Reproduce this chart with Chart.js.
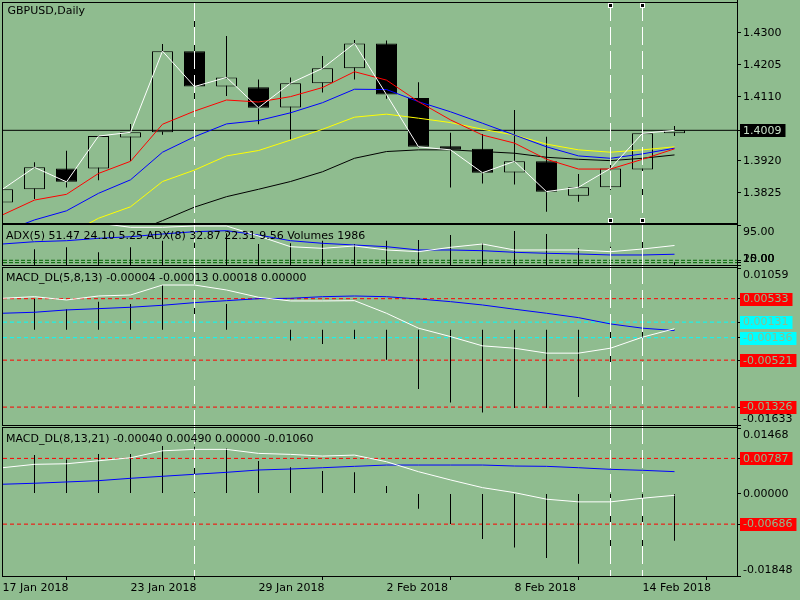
<!DOCTYPE html>
<html>
<head>
<meta charset="utf-8">
<script src="https://cdn.jsdelivr.net/npm/chart.js@4.4.1/dist/chart.umd.min.js"></script>
<style>
html, body { margin: 0; padding: 0; background: #8FBC8F; width: 800px; height: 600px; overflow: hidden; }
canvas { position: absolute; left: 0; }
</style>
</head>
<body>
<canvas id="main" width="800" height="224" style="top:0px"></canvas>
<canvas id="adx" width="800" height="42" style="top:224px"></canvas>
<canvas id="macd1" width="800" height="160" style="top:266px"></canvas>
<canvas id="macd2" width="800" height="174" style="top:426px"></canvas>
<script>
// bars, one per trading day
const dates = ['17 Jan 2018', '18 Jan 2018', '19 Jan 2018', '22 Jan 2018', '23 Jan 2018', '24 Jan 2018',
    '25 Jan 2018', '26 Jan 2018', '29 Jan 2018', '30 Jan 2018', '31 Jan 2018', '1 Feb 2018', '2 Feb 2018',
    '5 Feb 2018', '6 Feb 2018', '7 Feb 2018', '8 Feb 2018', '9 Feb 2018', '12 Feb 2018', '13 Feb 2018',
    '14 Feb 2018', '15 Feb 2018']
const dateTicks = [0, 4, 8, 12, 16, 20]
const vlineBars = [6, 19, 20]
const selectedBars = [19, 20]

const opens = [1.3795, 1.3834, 1.3896, 1.3896, 1.3988, 1.4003, 1.4244, 1.4139, 1.4137, 1.4077, 1.4149,
    1.4193, 1.4267, 1.4105, 1.3962, 1.3954, 1.3884, 1.3917, 1.3815, 1.3840, 1.3893, 1.4000]
const highs = [1.3848, 1.3914, 1.3948, 1.3993, 1.4028, 1.4265, 1.4346, 1.4289, 1.4160, 1.4166, 1.4230,
    1.4277, 1.4276, 1.4152, 1.4002, 1.3998, 1.4069, 1.3990, 1.3879, 1.3912, 1.4020, 1.4022]
const lows = [1.3782, 1.3805, 1.3839, 1.3861, 1.3918, 1.3996, 1.4081, 1.4111, 1.4027, 1.3982, 1.4121,
    1.4160, 1.4103, 1.3958, 1.3839, 1.3851, 1.3848, 1.3767, 1.3797, 1.3832, 1.3800, 1.3992]
const closes = [1.3834, 1.3899, 1.3856, 1.3992, 1.4003, 1.4244, 1.4139, 1.4166, 1.4076, 1.4149, 1.4193,
    1.4267, 1.4115, 1.3960, 1.3951, 1.3883, 1.3917, 1.3827, 1.3840, 1.3896, 1.4000, 1.4009]

const maRed = [1.3758, 1.3802, 1.3819, 1.3881, 1.3917, 1.4027, 1.4066, 1.4099, 1.4093, 1.4109, 1.4136,
    1.4183, 1.4158, 1.4094, 1.4040, 1.3995, 1.3971, 1.3923, 1.3894, 1.3894, 1.3923, 1.3954]
const maBlue = [1.3707, 1.3743, 1.3770, 1.3822, 1.3862, 1.3944, 1.3990, 1.4028, 1.4038, 1.4061, 1.4091,
    1.4131, 1.4130, 1.4094, 1.4064, 1.4030, 1.3995, 1.3960, 1.3933, 1.3926, 1.3939, 1.3956]
const maYellow = [1.3618, 1.3654, 1.3697, 1.3748, 1.3782, 1.3857, 1.3891, 1.3933, 1.3949, 1.3980, 1.4012,
    1.4048, 1.4057, 1.4045, 1.4032, 1.4012, 1.3995, 1.3968, 1.3951, 1.3944, 1.3951, 1.3960]
const maBlack = [1.3559, 1.3594, 1.3630, 1.3666, 1.3702, 1.3741, 1.3781, 1.3812, 1.3834, 1.3857, 1.3886,
    1.3926, 1.3946, 1.3951, 1.3951, 1.3946, 1.3941, 1.3929, 1.3923, 1.3919, 1.3926, 1.3936]
const priceTicks = [1.4300, 1.4205, 1.4110, 1.3920, 1.3825]

const volumes = [11000, 11540, 13010, 9340, 13010, 17860, 16170, 23300, 15440, 15950, 17860,
    15440, 17860, 18380, 22050, 15950, 24990, 22790, 12500, 13450, 18380, 1986]
const adxWhite = [97, 98, 98.5, 99, 90.1, 90.1, 92.9, 92.9, 71.6, 48.9, 45.4, 50.4, 41.9, 38.3, 47.6,
    54.6, 41.9, 41.9, 41.9, 38.3, 44, 51.47]
const adxBlue = [54.6, 59.5, 61.6, 66.7, 70.1, 75.9, 80.8, 82.9, 73.8, 61.6, 56.1, 52.5, 48.9, 41.9, 41.9,
    40.4, 37, 34.9, 33.4, 31.3, 31.3, 32.87]
const adxTicks = [95, 20, 15, 10]
const adxLevels = [20, 15]

const m1Hist = [0.0040, 0.00528, 0.00351, 0.00482, 0.00442, 0.00762, 0.00636, 0.00442, 0.00002, -0.00186,
    -0.00242, -0.00157, -0.00516, -0.01017, -0.01246, -0.01418, -0.01342, -0.01342, -0.01154, -0.00812,
    -0.00299, -0.00004]
const m1White = [0.0054, 0.00567, 0.00511, 0.00579, 0.00596, 0.00767, 0.00767, 0.00682, 0.00557, 0.00494,
    0.00494, 0.00499, 0.00283, 0.00027, -0.00117, -0.00276, -0.00316, -0.00401, -0.00401, -0.00316,
    -0.00127, 0.00018]
const m1Blue = [0.00283, 0.0030, 0.0034, 0.00362, 0.00386, 0.0042, 0.00465, 0.00499, 0.00533, 0.0054,
    0.00567, 0.00579, 0.00567, 0.00528, 0.00482, 0.00425, 0.00352, 0.00283, 0.00208, 0.0010, 0.00027,
    -0.00013]
const m1Range = [-0.01633, 0.01059]
const m1Red = [0.00533, -0.00521, -0.01326]
const m1Cyan = [0.00131, -0.00136]

const m2Hist = [0.0080, 0.00861, 0.00765, 0.00884, 0.00884, 0.01062, 0.01047, 0.01011, 0.00728, 0.00587,
    0.00504, 0.00475, 0.0017, -0.00344, -0.00685, -0.0102, -0.01207, -0.01444, -0.01571, -0.0152,
    -0.01274, -0.0106]
const m2White = [0.00578, 0.00654, 0.00667, 0.00734, 0.00801, 0.00957, 0.00989, 0.00989, 0.00899, 0.00877,
    0.00839, 0.00861, 0.00712, 0.00489, 0.00304, 0.00132, 0.0002, -0.00127, -0.00187, -0.00187,
    -0.00105, -0.0004]
const m2Blue = [0.00208, 0.0023, 0.00259, 0.00288, 0.00341, 0.00386, 0.00431, 0.00475, 0.00527, 0.00549,
    0.00578, 0.00609, 0.00638, 0.00638, 0.00638, 0.00638, 0.00616, 0.00609, 0.00578, 0.00542, 0.0052,
    0.0049]
const m2Range = [-0.01848, 0.01468]
const m2Red = [0.00787, -0.00686]

const BG = '#8FBC8F'
const FONT = '11px "DejaVu Sans"'
const X_MIN = 0.015625
const X_MAX = 22.953125

Chart.defaults.font.family = 'DejaVu Sans'
Chart.defaults.font.size = 11
Chart.defaults.color = '#000'

// panel frame, axis labels, vertical line objects, titles
const decor = {
    id: 'decor',
    afterDatasetsDraw(chart, args, o) {
        const { ctx, chartArea: a } = chart
        const xs = chart.scales.x
        ctx.save()
        ctx.strokeStyle = '#FFFFFF'
        ctx.lineWidth = 1
        ctx.setLineDash([18, 6])
        const y0 = o.first ? a.top : 0
        const y1 = o.last ? a.bottom : chart.height
        vlineBars.forEach(i => {
            const px = xs.getPixelForValue(i)
            ctx.beginPath()
            ctx.moveTo(px, y0)
            ctx.lineTo(px, y1)
            ctx.stroke()
        })
        ctx.setLineDash([])
        if (o.first) {
            selectedBars.forEach(i => {
                const px = xs.getPixelForValue(i)
                ;[a.top + 2.5, a.bottom - 2.5].forEach(py => {
                    ctx.fillStyle = '#FFFFFF'
                    ctx.fillRect(px - 2.5, py - 2.5, 5, 5)
                    ctx.fillStyle = '#000000'
                    ctx.fillRect(px - 1.5, py - 1.5, 3, 3)
                })
            })
        }
        ctx.restore()
    },
    afterDraw(chart, args, o) {
        const { ctx, chartArea: a } = chart
        const ys = chart.scales.y
        ctx.save()
        ctx.strokeStyle = '#000'
        ctx.lineWidth = 1
        ctx.strokeRect(a.left - 0.5, a.top - 0.5, a.right - a.left + 1, a.bottom - a.top + 1)
        ctx.beginPath()
        ctx.moveTo(a.right + 0.5, 0)
        ctx.lineTo(a.right + 0.5, o.last ? a.bottom + 1 : chart.height)
        ctx.stroke()

        ctx.font = FONT
        ctx.textBaseline = 'middle'
        ctx.textAlign = 'left'
        o.labels.forEach(l => {
            let py = ys.getPixelForValue(l.v)
            py = Math.min(Math.max(py, a.top + 7), a.bottom - 6)
            if (l.bg) {
                const w = ctx.measureText(l.text).width
                ctx.fillStyle = l.bg
                ctx.fillRect(a.right + 3, Math.round(py) - 6, w + 7, 13)
                ctx.fillStyle = l.fg
            } else {
                ctx.fillStyle = '#000'
            }
            ctx.fillText(l.text, a.right + 6, py + 0.5)
        })
        ctx.fillStyle = '#000'
        ctx.fillText(o.title, a.left + o.tx, a.top + o.ty)
        ctx.restore()
    }
}
Chart.register(decor)

function lab(v, digits, bg, fg) {
    return { v: v, text: v.toFixed(digits), bg: bg, fg: fg }
}

function xAxis() {
    return { type: 'linear', min: X_MIN, max: X_MAX, offset: false, display: false, grid: { display: false } }
}

function yAxis(min, max, tickVals) {
    return {
        type: 'linear',
        position: 'right',
        min: min,
        max: max,
        beginAtZero: false,
        afterBuildTicks: s => { s.ticks = tickVals.map(v => ({ value: v })) },
        afterFit: s => { s.width = 63 },
        ticks: { display: false },
        grid: { drawOnChartArea: false, drawTicks: true, tickLength: 4, color: '#000' },
        border: { display: true, color: '#000' }
    }
}

function line(values, color, order) {
    return {
        type: 'line', data: values.map((v, i) => ({ x: i, y: v })), borderColor: color, borderWidth: 1,
        pointRadius: 0, fill: false, tension: 0, order: order
    }
}

function level(v, color, dash, order) {
    return {
        type: 'line', data: [{ x: X_MIN, y: v }, { x: X_MAX, y: v }], borderColor: color, borderWidth: 1,
        borderDash: dash, pointRadius: 0, fill: false, order: order || 20
    }
}

function hist(values, axis) {
    return {
        type: 'bar', data: values.map((v, i) => ({ x: i, y: v })), backgroundColor: '#000',
        barThickness: 1, grouped: false, inflateAmount: 0, clip: 0, order: 15, yAxisID: axis || 'y'
    }
}

function options(pad, scales, decorOpts) {
    return {
        responsive: false,
        animation: false,
        devicePixelRatio: 1,
        events: [],
        layout: { padding: pad },
        scales: scales,
        plugins: { legend: { display: false }, tooltip: { enabled: false }, decor: decorOpts }
    }
}

const bars = dates.map((d, i) => i)
const lastClose = closes[closes.length - 1]

new Chart(document.getElementById('main'), {
    type: 'bar',
    data: {
        datasets: [
            level(lastClose, '#000000', [], 7),
            {
                type: 'bar', data: bars.map(i => ({ x: i, y: [lows[i], highs[i]] })), backgroundColor: '#000',
                barThickness: 1, grouped: false, inflateAmount: 0, clip: 0, order: 12
            },
            {
                type: 'bar', data: bars.map(i => ({ x: i, y: [opens[i], closes[i]] })),
                backgroundColor: bars.map(i => closes[i] >= opens[i] ? BG : '#000'),
                borderColor: '#000', borderWidth: 1, borderSkipped: false, barThickness: 21,
                grouped: false, inflateAmount: 0, clip: 0, order: 10
            },
            line(maBlack, '#000000', 6),
            line(maYellow, '#FFFF00', 5),
            line(maBlue, '#0000FF', 4),
            line(maRed, '#FF0000', 3),
            line(closes, '#FFFFFF', 1)
        ]
    },
    options: options({ top: 3, bottom: 1, left: 3, right: 0 },
        { x: xAxis(), y: yAxis(1.373386, 1.438698, priceTicks.concat([lastClose])) },
        {
            first: true, title: 'GBPUSD,Daily', tx: 4.5, ty: 8.5,
            labels: priceTicks.map(v => lab(v, 4)).concat([lab(lastClose, 4, '#000000', '#C8E0C8')])
        })
})

new Chart(document.getElementById('adx'), {
    type: 'bar',
    data: {
        datasets: adxLevels.map(v => level(v, '#006400', [4, 2])).concat([
            hist(volumes, 'y2'),
            line(adxBlue, '#0000FF', 4),
            line(adxWhite, '#FFFFFF', 3)
        ])
    },
    options: options({ top: 1, bottom: 1, left: 3, right: 0 },
        { x: xAxis(), y: yAxis(10, 95, adxTicks), y2: { type: 'linear', display: false, min: 0, max: 29400 } },
        {
            title: 'ADX(5) 51.47 24.10 5.25 ADX(8) 32.87 22.31 9.56 Volumes 1986', tx: 3, ty: 11.5,
            labels: adxTicks.map(v => lab(v, 2))
        })
})

new Chart(document.getElementById('macd1'), {
    type: 'bar',
    data: {
        datasets: m1Red.map(v => level(v, '#FF0000', [4, 3])).concat(
            m1Cyan.map(v => level(v, '#00FFFF', [4, 3])),
            [hist(m1Hist), line(m1Blue, '#0000FF', 4), line(m1White, '#FFFFFF', 3)])
    },
    options: options({ top: 2, bottom: 1, left: 3, right: 0 },
        { x: xAxis(), y: yAxis(m1Range[0], m1Range[1], [m1Range[1], m1Range[0]].concat(m1Red, m1Cyan)) },
        {
            title: 'MACD_DL(5,8,13) -0.00004 -0.00013 0.00018 0.00000', tx: 3, ty: 10.3,
            labels: [lab(m1Range[1], 5), lab(m1Range[0], 5)]
                .concat(m1Red.map(v => lab(v, 5, '#FF0000', BG)), m1Cyan.map(v => lab(v, 5, '#00FFFF', BG)))
        })
})

new Chart(document.getElementById('macd2'), {
    type: 'bar',
    data: {
        datasets: m2Red.map(v => level(v, '#FF0000', [4, 3])).concat(
            [hist(m2Hist), line(m2Blue, '#0000FF', 4), line(m2White, '#FFFFFF', 3)])
    },
    options: options({ top: 2, bottom: 0, left: 3, right: 0 },
        {
            x: {
                type: 'linear', min: X_MIN, max: X_MAX, offset: false, position: 'bottom',
                afterBuildTicks: s => { s.ticks = dateTicks.map(v => ({ value: v })) },
                afterFit: s => { s.height = 24 },
                ticks: { autoSkip: false, maxRotation: 0, align: 'start', padding: 2, color: '#000',
                    font: { family: 'DejaVu Sans', size: 11 }, callback: v => dates[v] },
                grid: { drawOnChartArea: false, drawTicks: true, tickLength: 4, color: '#000' },
                border: { display: false }
            },
            y: yAxis(m2Range[0], m2Range[1], [m2Range[1], 0, m2Range[0]].concat(m2Red))
        },
        {
            last: true, title: 'MACD_DL(8,13,21) -0.00040 0.00490 0.00000 -0.01060', tx: 3, ty: 11.5,
            labels: [lab(m2Range[1], 5), lab(0, 5), lab(m2Range[0], 5)].concat(m2Red.map(v => lab(v, 5, '#FF0000', BG)))
        })
})
</script>
</body>
</html>
